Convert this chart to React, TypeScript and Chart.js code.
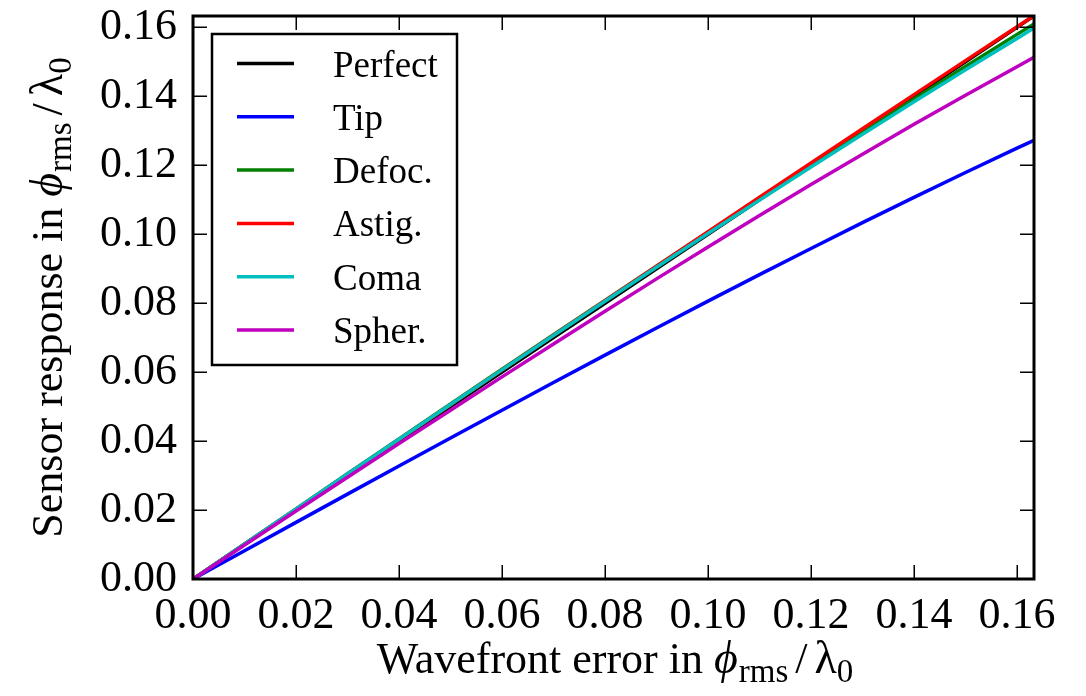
import React, { useEffect, useRef } from "react";
import { Chart, registerables } from "chart.js";

Chart.register(...registerables);

const xValues = [0, 0.01, 0.02, 0.03, 0.04, 0.05, 0.06, 0.07, 0.08, 0.09, 0.1, 0.11, 0.12, 0.13, 0.14, 0.15, 0.16, 0.1633];
const perfect = [0, 0.01, 0.02, 0.03, 0.04, 0.05, 0.06, 0.07, 0.08, 0.09, 0.1, 0.11, 0.12, 0.13, 0.14, 0.15, 0.16, 0.1633];
const tip = [0, 0.00822, 0.01643, 0.02462, 0.03278, 0.0409, 0.04897, 0.05699, 0.06494, 0.07281, 0.0806, 0.08829, 0.09588, 0.10335, 0.11068, 0.1179, 0.12496, 0.12726];
const defoc = [0, 0.01018, 0.02035, 0.03051, 0.04064, 0.05075, 0.06082, 0.07085, 0.08082, 0.09075, 0.1006, 0.11039, 0.12008, 0.1297, 0.13923, 0.14865, 0.15797, 0.161];
const astig = [0, 0.01012, 0.02024, 0.03035, 0.04045, 0.05054, 0.06062, 0.07068, 0.08072, 0.09075, 0.10076, 0.11074, 0.1207, 0.13062, 0.1405, 0.15036, 0.16016, 0.16341];
const coma = [0, 0.01016, 0.02031, 0.03044, 0.04055, 0.05063, 0.06066, 0.07064, 0.08056, 0.09042, 0.1002, 0.1099, 0.1195, 0.129, 0.1384, 0.1477, 0.1568, 0.1598];
const spher = [0, 0.00985, 0.0197, 0.0295, 0.03926, 0.04897, 0.05862, 0.06819, 0.07767, 0.08705, 0.0963, 0.1054, 0.1144, 0.1232, 0.1319, 0.1403, 0.1486, 0.1513];

const seriesLabels = ["Perfect", "Tip", "Defoc.", "Astig.", "Coma", "Spher."];
const seriesColors = ["#000000", "#0000ff", "#008000", "#ff0000", "#00bfbf", "#bf00bf"];
const seriesValues = [perfect, tip, defoc, astig, coma, spher];

const axisMin = 0;
const axisMax = 0.1633;
const tickStep = 0.02;

const FONT = "'Liberation Serif', 'DejaVu Serif', serif";

type Seg = { t: string; font: string; dy: number; gap?: number };

function titleSegs(main: string): Seg[] {
  return [
    { t: main, font: `44px ${FONT}`, dy: 0 },
    { t: "ϕ", font: `italic 46px ${FONT}`, dy: 0, gap: 1 },
    { t: "rms", font: `33px ${FONT}`, dy: 9, gap: 7 },
    { t: "/", font: `44px ${FONT}`, dy: 0, gap: 7 },
    { t: "λ", font: `46px ${FONT}`, dy: 0 },
    { t: "0", font: `33px ${FONT}`, dy: 9 },
  ];
}

function drawSegs(ctx: CanvasRenderingContext2D, segs: Seg[], cx: number, baseY: number) {
  let total = 0;
  for (const s of segs) {
    ctx.font = s.font;
    total += ctx.measureText(s.t).width + (s.gap || 0);
  }
  let x = cx - total / 2;
  ctx.textAlign = "left";
  ctx.textBaseline = "alphabetic";
  for (const s of segs) {
    ctx.font = s.font;
    ctx.fillText(s.t, x, baseY + s.dy);
    x += ctx.measureText(s.t).width + (s.gap || 0);
  }
}

const framePlugin = {
  id: "framePlugin",
  afterDraw(chart: any) {
    const ctx: CanvasRenderingContext2D = chart.ctx;
    const { left, right, top, bottom } = chart.chartArea;
    const xs = chart.scales.x;
    const ys = chart.scales.y;
    ctx.save();
    ctx.fillStyle = "#000";
    ctx.strokeStyle = "#000";
    ctx.lineWidth = 1.5;
    const tl = 14;
    xs.ticks.forEach((t: any) => {
      const px = Math.round(xs.getPixelForValue(t.value)) + 0.25;
      ctx.beginPath();
      ctx.moveTo(px, bottom);
      ctx.lineTo(px, bottom - tl);
      ctx.moveTo(px, top);
      ctx.lineTo(px, top + tl);
      ctx.stroke();
    });
    ys.ticks.forEach((t: any) => {
      const py = Math.round(ys.getPixelForValue(t.value)) + 0.25;
      ctx.beginPath();
      ctx.moveTo(left, py);
      ctx.lineTo(left + tl, py);
      ctx.moveTo(right, py);
      ctx.lineTo(right - tl, py);
      ctx.stroke();
    });
    ctx.lineWidth = 3;
    ctx.strokeRect(left, top, right - left, bottom - top);

    // legend
    const lx = 212, ly = 34, lw = 245, lh = 331;
    ctx.fillStyle = "#fff";
    ctx.fillRect(lx, ly, lw, lh);
    ctx.lineWidth = 2.5;
    ctx.strokeStyle = "#000";
    ctx.strokeRect(lx, ly, lw, lh);
    chart.data.datasets.forEach((ds: any, i: number) => {
      const ry = 63.5 + i * 53.3;
      ctx.strokeStyle = ds.borderColor;
      ctx.lineWidth = 3.5;
      ctx.beginPath();
      ctx.moveTo(237, ry);
      ctx.lineTo(294, ry);
      ctx.stroke();
      ctx.fillStyle = "#000";
      ctx.font = `37px ${FONT}`;
      ctx.textAlign = "left";
      ctx.textBaseline = "alphabetic";
      ctx.fillText(ds.label, 333, ry + 13);
    });

    ctx.fillStyle = "#000";
    drawSegs(ctx, titleSegs("Wavefront error in "), 615, 673);
    ctx.save();
    ctx.translate(62, (top + bottom) / 2);
    ctx.rotate(-Math.PI / 2);
    drawSegs(ctx, titleSegs("Sensor response in "), 0, 0);
    ctx.restore();
    ctx.restore();
  },
};

export default function App() {
  const ref = useRef<HTMLCanvasElement | null>(null);
  useEffect(() => {
    if (!ref.current) return;
    const n = seriesLabels.length;
    const datasets = seriesLabels.map((label, i) => ({
      label,
      data: xValues.map((x, j) => ({ x, y: seriesValues[i][j] })),
      borderColor: seriesColors[i],
      backgroundColor: seriesColors[i],
      borderWidth: 3.5,
      pointRadius: 0,
      fill: false,
      tension: 0,
      clip: 0,
      order: n - i,
    }));
    const tickFont = { family: FONT, size: 44, lineHeight: 1 };
    const chart = new Chart(ref.current, {
      type: "line",
      data: { datasets },
      plugins: [framePlugin],
      options: {
        animation: false,
        responsive: false,
        maintainAspectRatio: false,
        layout: { padding: { left: 0, right: 52, top: 16, bottom: 0 } },
        plugins: { legend: { display: false }, tooltip: { enabled: false } },
        scales: {
          x: {
            type: "linear",
            min: axisMin,
            max: axisMax,
            grid: { display: false, drawTicks: false },
            border: { display: false },
            ticks: {
              stepSize: tickStep,
              includeBounds: false,
              maxRotation: 0,
              autoSkip: false,
              padding: 15,
              color: "#000",
              font: tickFont,
              callback: (v: any) => Number(v).toFixed(2),
            },
            afterFit: (s: any) => {
              s.height = 117;
              s.paddingLeft = 0;
              s.paddingRight = 0;
            },
          },
          y: {
            type: "linear",
            min: axisMin,
            max: axisMax,
            grid: { display: false, drawTicks: false },
            border: { display: false },
            ticks: {
              stepSize: tickStep,
              includeBounds: false,
              autoSkip: false,
              padding: 16,
              color: "#000",
              font: tickFont,
              callback: (v: any) => Number(v).toFixed(2),
            },
            afterFit: (s: any) => {
              s.width = 193;
              s.paddingTop = 0;
              s.paddingBottom = 0;
            },
          },
        },
      } as any,
    });
    return () => chart.destroy();
  }, []);
  return (
    <div style={{ position: "fixed", left: 0, top: 0, width: 1086, height: 696, background: "#fff" }}>
      <canvas ref={ref} width={1086} height={696} style={{ width: 1086, height: 696 }} />
    </div>
  );
}
